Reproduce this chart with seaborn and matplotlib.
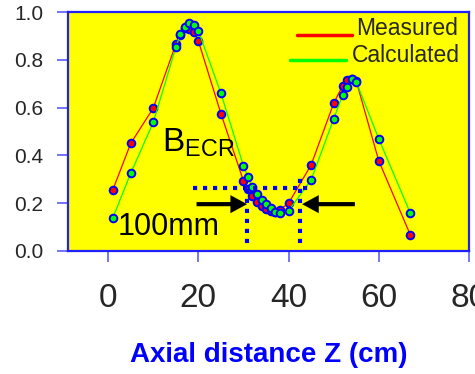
import matplotlib
matplotlib.use('Agg')
import matplotlib.pyplot as plt
import seaborn as sns
import pandas as pd

# measured and calculated axial field profile
z_measured = [1, 5, 10, 15, 16, 17, 18, 19, 20, 25, 30, 31, 32, 33, 34, 35, 36, 37, 38, 40,
              45, 50, 52, 53, 54, 55, 60, 67]
b_measured = [0.254, 0.45, 0.598, 0.865, 0.905, 0.935, 0.928, 0.915, 0.879, 0.575,
              0.293, 0.258, 0.23, 0.204, 0.187, 0.175, 0.168, 0.165, 0.172, 0.2,
              0.36, 0.618, 0.692, 0.715, 0.72, 0.712, 0.377, 0.067]

z_calc = [1, 5, 10, 15, 16, 17, 18, 19, 20, 25, 30, 31, 32, 33, 34, 35, 36, 37, 38, 40,
          45, 50, 52, 53, 54, 55, 60, 67]
b_calc = [0.137, 0.325, 0.538, 0.852, 0.907, 0.939, 0.953, 0.946, 0.922, 0.66,
          0.356, 0.311, 0.269, 0.237, 0.214, 0.195, 0.178, 0.165, 0.16, 0.169,
          0.297, 0.553, 0.653, 0.687, 0.72, 0.708, 0.469, 0.158]

x_ticks = [0, 20, 40, 60, 80]
y_ticks = [0.0, 0.2, 0.4, 0.6, 0.8, 1.0]

df_m = pd.DataFrame({'z': z_measured, 'b': b_measured})
df_c = pd.DataFrame({'z': z_calc, 'b': b_calc})

sns.set_theme(style='white')
plt.rcParams['font.family'] = ['Liberation Sans', 'DejaVu Sans']
plt.rcParams['mathtext.fontset'] = 'custom'
plt.rcParams['mathtext.rm'] = 'Liberation Sans'

fig = plt.figure(figsize=(4.75, 3.74), dpi=100)
ax = fig.add_axes([68/475, 1-251/374, (469-68)/475, (251-12)/374])
ax.set_facecolor('#ffff00')

sns.lineplot(data=df_m, x='z', y='b', color='#ff0000', lw=0.9, marker='o', markersize=5.5,
             markeredgecolor='#0000ff', markeredgewidth=1.4, sort=False, ax=ax, legend=False)
sns.lineplot(data=df_c, x='z', y='b', color='#00ff00', lw=0.9, marker='o', markersize=5.5,
             markeredgecolor='#0000ff', markeredgewidth=1.4, sort=False, ax=ax, legend=False)

ax.set_xlim(-8.9, 80)
ax.set_ylim(0, 1)
ax.set_xticks(x_ticks)
ax.set_yticks(y_ticks)
ax.set_yticklabels([f'{v:.1f}' for v in y_ticks])
ax.tick_params(axis='x', direction='out', length=8, width=1.3, color='#6a6aff',
               labelsize=24, pad=15, bottom=True)
ax.tick_params(axis='y', direction='out', length=8, width=1.3, color='#6a6aff',
               labelsize=15, pad=10, left=True)
for s in ax.spines.values():
    s.set_color('#2020ff')
    s.set_linewidth(1.6)
ax.set_ylabel('')
ax.set_xlabel('Axial distance Z (cm)', color='#0000ff', fontsize=20, fontweight='bold', labelpad=20)

# dotted box marking the resonance zone
dot = dict(color='#0000ff', lw=3, linestyle=(0, (1, 1.4)))
ax.plot([18.9, 44.4], [0.262, 0.262], **dot)
ax.plot([30.8, 30.8], [0.035, 0.262], **dot)
ax.plot([42.6, 42.6], [0.035, 0.305], **dot)

arrow = dict(arrowstyle='simple,head_length=1.2,head_width=1.3,tail_width=0.3',
             fc='black', ec='none', mutation_scale=10, shrinkA=0, shrinkB=0)
ax.annotate('', xy=(30.8, 0.196), xytext=(19.6, 0.196), arrowprops=arrow)
ax.annotate('', xy=(43.0, 0.196), xytext=(54.7, 0.196), arrowprops=arrow)

ax.text(2.0, 0.067, '100mm', fontsize=22, va='baseline', ha='left', color='black')
ax.text(12.0, 0.414, r'$\mathregular{B_{ECR}}$', fontsize=24, va='baseline', ha='left', color='black')

# legend drawn by hand: line sits on the text baseline
ax.plot([0.571, 0.708], [0.904, 0.904], color='#ff0000', lw=2.5, transform=ax.transAxes)
ax.text(0.718, 0.904, 'Measured', fontsize=16.5, va='baseline', ha='left', transform=ax.transAxes)
ax.plot([0.554, 0.693], [0.799, 0.799], color='#00ff00', lw=2.5, transform=ax.transAxes)
ax.text(0.708, 0.791, 'Calculated', fontsize=16.5, va='baseline', ha='left', transform=ax.transAxes)

fig.savefig('out.png', dpi=100)
